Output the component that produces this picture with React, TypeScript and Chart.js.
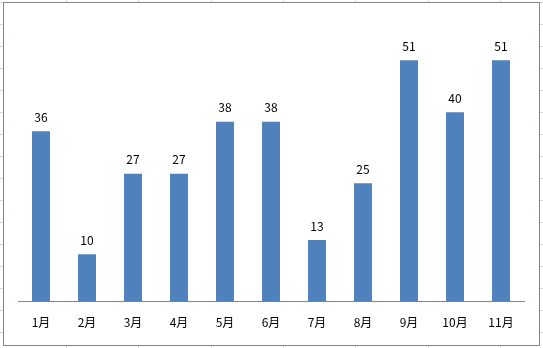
import React, { useEffect, useRef } from "react";
import { Chart, registerables } from "chart.js";

Chart.register(...registerables);

const categories = ["1月", "2月", "3月", "4月", "5月", "6月", "7月", "8月", "9月", "10月", "11月"];
const values = [36, 10, 27, 27, 38, 38, 13, 25, 51, 40, 51];

const FONT = '"Noto Sans CJK SC", "Noto Sans", sans-serif';

const sheetPlugin = {
  id: "sheet",
  beforeDraw(chart: any) {
    const { ctx, width, height } = chart;
    ctx.save();
    ctx.fillStyle = "#ffffff";
    ctx.fillRect(0, 0, width, height);
    ctx.strokeStyle = "#d0d7e5";
    ctx.lineWidth = 1;
    for (let x = 66; x < width; x += 72.3) {
      const px = Math.round(x) + 0.5;
      ctx.beginPath();
      ctx.moveTo(px, 0);
      ctx.lineTo(px, height);
      ctx.stroke();
    }
    for (let y = 2; y < height; y += 22) {
      const py = Math.round(y) + 0.5;
      ctx.beginPath();
      ctx.moveTo(0, py);
      ctx.lineTo(width, py);
      ctx.stroke();
    }
    ctx.fillStyle = "#ffffff";
    ctx.fillRect(3, 2, 536, 343);
    ctx.strokeStyle = "#868686";
    ctx.strokeRect(3.5, 2.5, 536, 343);
    ctx.restore();
  },
};

const labelPlugin = {
  id: "barLabels",
  afterDatasetsDraw(chart: any) {
    const { ctx } = chart;
    const meta = chart.getDatasetMeta(0);
    ctx.save();
    ctx.fillStyle = "#000000";
    ctx.font = `12px ${FONT}`;
    ctx.textAlign = "center";
    ctx.textBaseline = "middle";
    meta.data.forEach((bar: any, i: number) => {
      ctx.fillText(String(values[i]), bar.x, bar.y - 14);
    });
    ctx.restore();
  },
};

export default function App() {
  const ref = useRef<HTMLCanvasElement>(null);
  useEffect(() => {
    document.body.style.margin = "0";
    const chart = new Chart(ref.current!, {
      type: "bar",
      data: {
        labels: categories,
        datasets: [
          {
            data: values,
            backgroundColor: "#4f81bd",
            categoryPercentage: 1,
            barPercentage: 0.39,
          },
        ],
      },
      options: {
        responsive: false,
        animation: false,
        layout: { padding: { left: 18, right: 19, top: 17.6, bottom: 12 } },
        plugins: { legend: { display: false }, tooltip: { enabled: false } },
        scales: {
          x: {
            grid: { display: false },
            border: { display: true, color: "#868686", width: 1 },
            ticks: { color: "#000000", font: { family: FONT, size: 12 }, padding: 6 },
          },
          y: {
            display: false,
            min: 0,
            max: 60,
          },
        },
      },
      plugins: [sheetPlugin, labelPlugin],
    });
    return () => chart.destroy();
  }, []);
  return <canvas ref={ref} width={543} height={348} style={{ display: "block" }} />;
}
